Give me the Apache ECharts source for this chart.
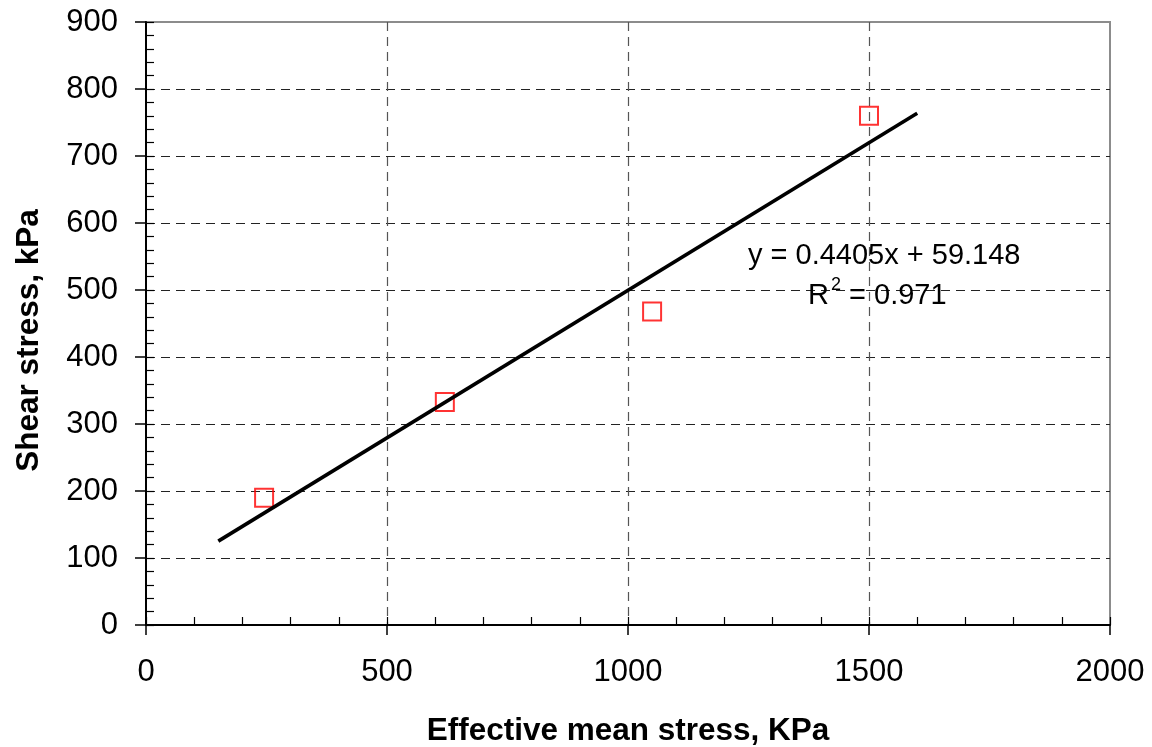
<!DOCTYPE html>
<html>
<head>
<meta charset="utf-8">
<script src="https://cdn.jsdelivr.net/npm/echarts@6/dist/echarts.min.js"></script>
<style>
  html, body { margin: 0; padding: 0; background: #fff; }
  #chart { width: 1152px; height: 747px; }
</style>
</head>
<body>
<div id="chart"></div>
<script>
// measured points (effective mean stress, shear stress)
var stressX = [245, 620, 1050, 1500]
var stressY = [190, 333, 468, 760]
// linear trend line ends
var trendX = [150, 1600]
var trendY = [125.2, 763.9]
var eqText = 'y = 0.4405x + 59.148'
var r2Text = '0.971'

var font = 'Liberation Sans, Arial, sans-serif'

var chart = echarts.init(document.getElementById('chart'))

function pairs(xs, ys) {
  return xs.map(function (x, i) { return [x, ys[i]] })
}

chart.setOption({
  animation: false,
  backgroundColor: '#fff',
  grid: {
    left: 146, right: 42, top: 22, bottom: 122,
    outerBoundsMode: 'none', containLabel: false,
    show: true, borderColor: '#8c8c8c', borderWidth: 2, backgroundColor: 'transparent'
  },
  xAxis: [
    {
      type: 'value', min: 0, max: 2000, interval: 500,
      name: 'Effective mean stress, KPa', nameLocation: 'middle', nameGap: 90,
      nameTextStyle: { fontFamily: font, fontSize: 31.5, fontWeight: 'bold', color: '#000' },
      axisLine: { show: true, lineStyle: { color: '#000', width: 2 } },
      axisTick: { show: true, length: 10, lineStyle: { color: '#000', width: 1.5 } },
      axisLabel: { margin: 32, fontFamily: font, fontSize: 31, color: '#000',
        formatter: function (v) { return String(v) } },
      splitLine: { show: true, showMinLine: false, showMaxLine: false,
        lineStyle: { color: '#555', width: 1.2, type: [9, 6] } }
    },
    {
      type: 'value', min: 0, max: 2000, interval: 100, position: 'bottom',
      axisLine: { show: false },
      axisTick: { show: true, inside: true, length: 8, lineStyle: { color: '#000', width: 1.2 } },
      axisLabel: { show: false },
      splitLine: { show: false }
    }
  ],
  yAxis: [
    {
      type: 'value', min: 0, max: 900, interval: 100,
      name: 'Shear stress, kPa', nameLocation: 'middle', nameGap: 101,
      nameTextStyle: { fontFamily: font, fontSize: 31.5, fontWeight: 'bold', color: '#000',
        padding: [0, 34, 0, 0] },
      axisLine: { show: true, lineStyle: { color: '#000', width: 2 } },
      axisTick: { show: true, length: 11, lineStyle: { color: '#000', width: 1.5 } },
      axisLabel: { margin: 28, fontFamily: font, fontSize: 31, color: '#000' },
      splitLine: { show: true, showMinLine: false, showMaxLine: false,
        lineStyle: { color: '#222', width: 1.2, type: [9, 6] } }
    },
    {
      type: 'value', min: 0, max: 900, interval: 20, position: 'left',
      axisLine: { show: false },
      axisTick: { show: true, inside: true, length: 8, lineStyle: { color: '#000', width: 1.2 } },
      axisLabel: { show: false },
      splitLine: { show: false }
    }
  ],
  series: [
    {
      type: 'scatter',
      data: pairs(stressX, stressY),
      symbol: 'rect',
      symbolSize: 18,
      itemStyle: { color: 'transparent', borderColor: '#ff0000', borderWidth: 2 },
      z: 3
    },
    {
      type: 'line',
      data: pairs(trendX, trendY),
      symbol: 'none',
      lineStyle: { color: '#000', width: 3.6 },
      z: 4
    }
  ],
  graphic: [
    {
      type: 'text', left: 748, top: 241, z: 10,
      style: { text: eqText, font: '29px ' + font, fill: '#000' }
    },
    {
      type: 'text', left: 808, top: 276, z: 10,
      style: {
        text: '{b|R}{s|2}{b| = ' + r2Text + '}',
        rich: {
          b: { font: '29px ' + font, fill: '#000', verticalAlign: 'bottom' },
          s: { font: '18px ' + font, fill: '#000', verticalAlign: 'top', padding: [0, 0, 16, 2] }
        }
      }
    }
  ]
})
</script>
</body>
</html>
